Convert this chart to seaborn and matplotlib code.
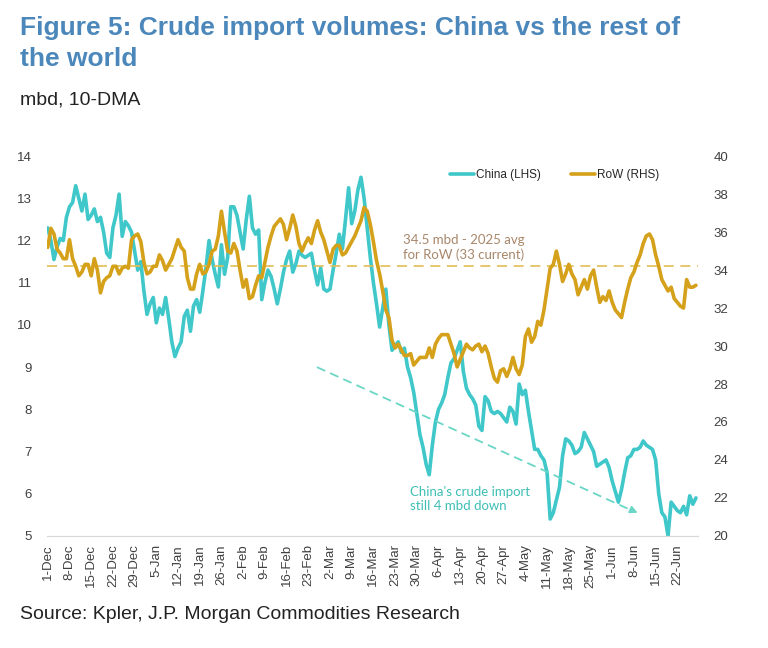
import numpy as np
import pandas as pd
import matplotlib
matplotlib.use("Agg")
import matplotlib.pyplot as plt
import seaborn as sns

# daily data, 10-DMA, mbd
dates = pd.date_range("2024-12-01", "2025-06-28", freq="D")

china = [
    12.30, 12.00, 11.55, 11.85, 12.05, 12.00, 12.55, 12.80, 12.90, 13.30,
    13.00, 12.70, 13.10, 12.50, 12.60, 12.75, 12.45, 12.55, 12.20, 11.70,
    11.60, 12.30, 12.60, 13.10, 12.10, 12.45, 12.35, 12.20, 11.75, 11.30,
    11.50, 10.80, 10.25, 10.50, 10.65, 10.05, 10.40, 10.25, 10.65, 10.15,
    9.60, 9.25, 9.45, 9.60, 10.20, 10.35, 9.85, 10.45, 10.60, 10.30,
    10.80, 11.35, 12.00, 11.55, 11.20, 10.90, 11.90, 11.20, 11.60, 12.80,
    12.80, 12.60, 12.20, 11.80, 12.50, 13.05, 12.30, 12.15, 12.25, 10.60,
    11.00, 11.30, 11.15, 10.85, 10.50, 10.85, 11.25, 11.55, 11.75, 11.25,
    11.45, 11.75, 11.65, 11.60, 11.65, 11.70, 11.30, 10.95, 11.35, 10.85,
    10.80, 10.85, 11.30, 11.70, 12.15, 11.80, 12.50, 13.25, 12.40, 12.70,
    13.20, 13.50, 13.00, 12.30, 11.60, 11.00, 10.50, 9.95, 10.40, 10.85,
    10.00, 9.40, 9.50, 9.60, 9.35, 9.45, 9.00, 8.75, 8.40, 7.90,
    7.40, 7.10, 6.70, 6.45, 7.15, 7.70, 8.00, 8.15, 8.35, 8.75,
    9.10, 9.20, 9.40, 9.60, 8.90, 8.50, 8.35, 8.25, 8.10, 7.60,
    7.50, 8.30, 8.20, 7.95, 7.90, 7.95, 7.90, 7.80, 7.70, 8.05,
    7.95, 7.65, 8.60, 8.35, 8.45, 7.95, 7.50, 7.05, 7.05, 6.90,
    6.80, 6.50, 5.40, 5.55, 5.85, 6.15, 6.90, 7.30, 7.25, 7.15,
    6.95, 7.00, 7.10, 7.45, 7.30, 7.15, 7.00, 6.65, 6.70, 6.75,
    6.80, 6.62, 6.30, 6.05, 5.80, 6.10, 6.50, 6.85, 6.90, 7.05,
    7.05, 7.10, 7.25, 7.15, 7.10, 7.05, 6.80, 6.00, 5.55, 5.45,
    5.00, 5.80, 5.70, 5.60, 5.55, 5.70, 5.50, 5.95, 5.75, 5.90,
]

row = [
    35.2, 36.2, 35.9, 35.1, 34.9, 34.6, 34.6, 35.6, 34.6, 34.2,
    33.7, 33.9, 34.3, 34.3, 33.7, 34.6, 34.0, 32.8, 33.4, 33.6,
    33.7, 34.2, 34.2, 33.8, 34.1, 34.2, 34.1, 35.6, 35.8, 35.9,
    35.5, 34.4, 33.8, 33.9, 34.2, 34.2, 34.8, 34.5, 34.0, 34.3,
    34.6, 35.1, 35.6, 35.2, 35.0, 33.6, 33.0, 33.0, 33.8, 34.3,
    33.8, 33.9, 34.3, 35.0, 35.1, 35.8, 37.1, 36.0, 35.0, 34.9,
    35.4, 35.0, 34.0, 33.1, 33.5, 32.5, 32.6, 33.2, 33.7, 33.6,
    34.4, 35.2, 35.8, 36.3, 36.5, 36.7, 36.4, 35.6, 36.2, 36.9,
    36.3, 35.4, 35.0, 35.4, 35.7, 35.4, 36.1, 36.6, 36.0, 35.6,
    35.0, 34.4, 35.1, 35.3, 35.3, 34.8, 34.9, 35.2, 35.5, 35.8,
    36.2, 36.6, 37.3, 37.1, 36.4, 35.5, 34.5, 33.8, 32.9, 31.9,
    31.5, 30.3, 29.9, 30.1, 29.8, 29.5, 29.5, 29.6, 29.0, 29.2,
    29.4, 29.4, 29.4, 29.9, 29.4, 30.1, 30.4, 30.6, 30.6, 30.6,
    30.1, 29.6, 28.9, 29.3, 29.7, 30.1, 29.9, 29.8, 30.0, 30.1,
    29.7, 30.0, 29.6, 28.9, 28.3, 28.1, 28.7, 28.8, 28.4, 28.8,
    29.4, 28.8, 28.5, 29.0, 30.5, 30.9, 30.2, 30.5, 31.3, 31.1,
    31.9, 33.0, 34.1, 34.3, 35.0, 34.3, 33.4, 33.8, 34.3, 33.8,
    33.5, 32.7, 33.1, 33.5, 33.0, 33.7, 34.0, 33.1, 32.3, 32.6,
    32.4, 32.9, 32.3, 31.9, 31.7, 31.5, 32.3, 33.0, 33.6, 33.9,
    34.4, 34.8, 35.4, 35.8, 35.9, 35.6, 34.8, 34.2, 33.5, 33.2,
    32.9, 33.1, 32.5, 32.3, 32.1, 32.0, 33.5, 33.1, 33.1, 33.2,
]

row_avg = 34.2
tick_dates = pd.date_range("2024-12-01", "2025-06-22", freq="7D")
tick_labels = [f"{d.day}-{d.strftime('%b')}" for d in tick_dates]

cyan = "#3FC7C9"
gold = "#D5A11B"

sns.set_style("white")
plt.rcParams["font.family"] = ["Liberation Sans Narrow", "Liberation Sans", "DejaVu Sans"]

fig = plt.figure(figsize=(7.68, 6.48), dpi=100)
ax = fig.add_axes([0.061, 0.173, 0.848, 0.586])
ax2 = ax.twinx()

sns.lineplot(x=dates, y=china, ax=ax, color=cyan, lw=2.6, legend=False)
sns.lineplot(x=dates, y=row, ax=ax2, color=gold, lw=2.6, legend=False)
ax2.axhline(row_avg, color="#E2BD55", lw=1.2, ls=(0, (6, 4)), zorder=1)

day = pd.Timedelta(days=1)
ax.set_xlim(dates[0] - 0.3 * day, dates[-1] + 0.7 * day)
ax.set_ylim(5, 14)
ax2.set_ylim(20, 40)
ax.set_yticks(range(5, 15))
ax2.set_yticks(range(20, 41, 2))
ax.set_xticks(tick_dates)
ax.set_xticklabels(tick_labels, rotation=90)

for a in (ax, ax2):
    for s in ("top", "left", "right"):
        a.spines[s].set_visible(False)
    a.spines["bottom"].set_color("#D9D9D9")
    a.set_xlabel("")
    a.set_ylabel("")
ax.tick_params(axis="y", length=0, pad=11, labelsize=9.5, labelcolor="#404040")
ax2.tick_params(axis="y", length=0, pad=11, labelsize=9.5, labelcolor="#404040")
ax.tick_params(axis="x", length=4, color="#D9D9D9", pad=2, labelsize=9.5, labelcolor="#404040")

# trend arrow
a0, a1 = dates[0] + 86.8 * day, dates[0] + 191 * day
ax.plot([a0, a1 - 2 * day], [9.0, 5.58], color="#6AD6C6", lw=1.3, ls=(0, (5, 3)))
ax.annotate("", xy=(a1, 5.52), xytext=(a1 - 3 * day, 5.62),
            arrowprops=dict(arrowstyle="-|>", color="#6AD6C6", lw=1.2, mutation_scale=11))

ax.text(dates[0] + 116.8 * day, 5.88, "China's crude import\nstill 4 mbd down",
        color="#3DBFB4", fontsize=9.5, family=["Lato", "DejaVu Sans"], va="center", linespacing=1.25)
ax2.text(dates[0] + 114.5 * day, 35.2, "34.5 mbd - 2025 avg\nfor RoW (33 current)",
         color="#A8876A", fontsize=9.5, family=["Lato", "DejaVu Sans"], va="center", linespacing=1.25)

handles = [plt.Line2D([], [], color=cyan, lw=2.6), plt.Line2D([], [], color=gold, lw=2.6)]
ax2.legend(handles, ["China (LHS)", "RoW (RHS)"], loc="center", bbox_to_anchor=(0.78, 0.95),
           ncol=2, frameon=False, fontsize=8.5, handlelength=2.0, handletextpad=0.2,
           columnspacing=2.6)

fig.text(0.026, 0.975, "Figure 5: Crude import volumes: China vs the rest of\nthe world",
         color="#4B87BA", fontsize=19, fontweight="bold", family=["Liberation Sans", "DejaVu Sans"],
         va="top", linespacing=1.35)
fig.text(0.026, 0.846, "mbd, 10-DMA", fontsize=14, color="#222222",
         family=["Liberation Sans", "DejaVu Sans"], va="center")
fig.text(0.026, 0.051, "Source: Kpler, J.P. Morgan Commodities Research", fontsize=14,
         color="#222222", family=["Liberation Sans", "DejaVu Sans"], va="center")

fig.savefig("out.png", dpi=100)
